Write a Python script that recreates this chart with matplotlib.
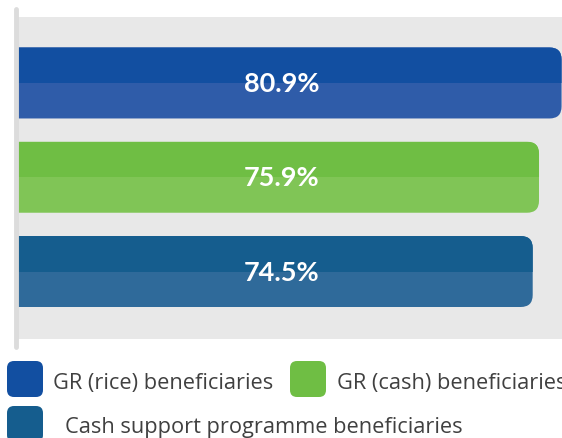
import matplotlib
matplotlib.use("Agg")
import matplotlib.pyplot as plt
from matplotlib.patches import FancyBboxPatch, Rectangle
from matplotlib.lines import Line2D
from matplotlib.transforms import IdentityTransform

categories = ["GR (rice) beneficiaries", "GR (cash) beneficiaries",
              "Cash support programme beneficiaries"]
values = [80.9, 75.9, 74.5]
value_labels = ["80.9%", "75.9%", "74.5%"]
colors_top = ["#124fa1", "#6fbe44", "#155d8e"]
colors_bottom = ["#2f5ca9", "#80c556", "#2f6a9a"]

W, H = 562, 439
fig = plt.figure(figsize=(W / 100, H / 100), dpi=100)
fig.patch.set_facecolor("white")


def fx(px):
    return px / W


def fy(py):
    return 1 - py / H


# plot panel (pixel extents of the grey card)
P_L, P_R, P_T, P_B = 18, 562, 18, 340
ax = fig.add_axes([fx(P_L), fy(P_B), fx(P_R) - fx(P_L), fy(P_T) - fy(P_B)])
ax.set_facecolor("#e8e8e8")
x_lo, x_hi = -39.7, 81.0
y_lo, y_hi = 2.716, -0.70
ax.set_xlim(x_lo, x_hi)
ax.set_ylim(y_lo, y_hi)
for s in ax.spines.values():
    s.set_visible(False)
ax.set_xticks([])
ax.set_yticks([])

bar_h = 0.753
ux = (x_hi - x_lo) / (P_R - P_L)      # data units per pixel, x
uy = abs(y_lo - y_hi) / (P_B - P_T)   # data units per pixel, y
radius_px = 12
left = x_lo - 10  # start beyond the left edge so only the right end is rounded

for i, (v, ct, cb, lab) in enumerate(zip(values, colors_top, colors_bottom, value_labels)):
    y0 = i - bar_h / 2
    style = f"round,pad=0,rounding_size={radius_px * ux}"
    base = FancyBboxPatch((left, y0), v - left, bar_h, boxstyle=style,
                          mutation_aspect=uy / ux, facecolor=cb, edgecolor="none")
    ax.add_patch(base)
    top = FancyBboxPatch((left, y0), v - left, bar_h, boxstyle=style,
                         mutation_aspect=uy / ux, facecolor=ct, edgecolor="none")
    ax.add_patch(top)
    clip = Rectangle((x_lo, y0), x_hi - x_lo, bar_h / 2, transform=ax.transData)
    top.set_clip_path(clip)
    ax.text(0.485, i, lab, transform=ax.get_yaxis_transform(), ha="center", va="center",
            color="white", fontsize=19.5, fontweight="bold", family="Lato")

# left rule
fig.add_artist(Line2D([fx(15.5), fx(15.5)], [fy(10), fy(348)], transform=fig.transFigure,
                      color="#dcdcdc", lw=3.5, solid_capstyle="round"))

# legend
legend_items = [
    (categories[0], colors_top[0], 7, 362, 53, 389),
    (categories[1], colors_top[1], 290, 362, 337, 389),
    (categories[2], colors_top[2], 7, 407, 65, 433),
]
for text, col, sx, sy, tx, ty in legend_items:
    sq = FancyBboxPatch((sx, H - sy - 36), 36, 36, boxstyle="round,pad=0,rounding_size=7",
                        transform=IdentityTransform(), facecolor=col, edgecolor="none")
    fig.add_artist(sq)
    fig.text(fx(tx), fy(ty), text, ha="left", va="baseline", color="#404040",
             fontsize=15.7, family="Open Sans")

fig.savefig("out.png", dpi=100, facecolor="white")
